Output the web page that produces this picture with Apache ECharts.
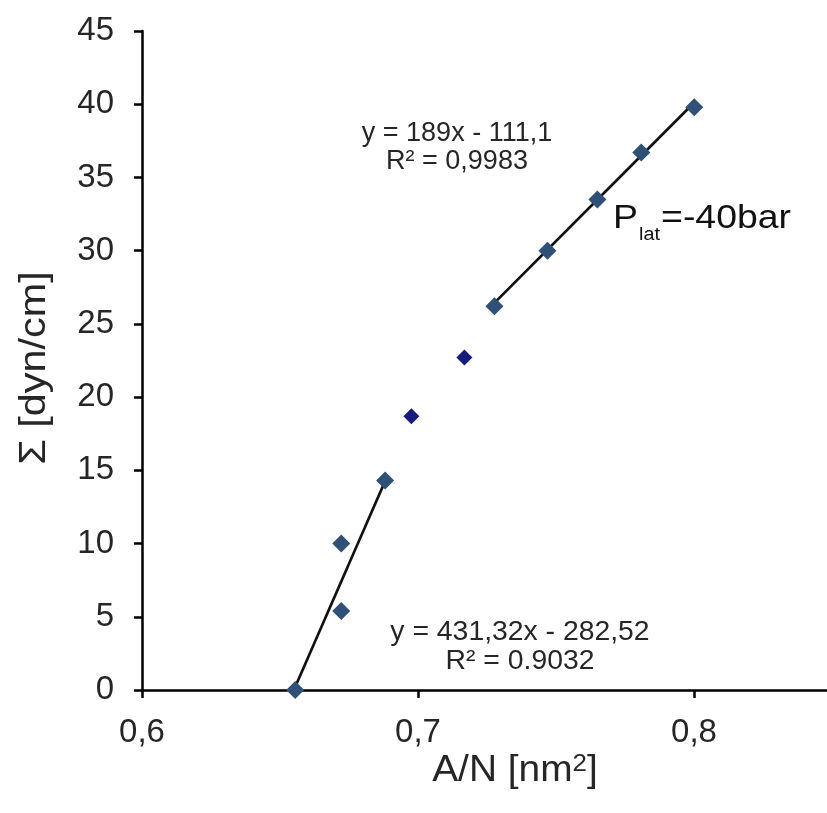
<!DOCTYPE html>
<html>
<head>
<meta charset="utf-8">
<script src="https://cdn.jsdelivr.net/npm/echarts@6/dist/echarts.min.js"></script>
<style>html,body{margin:0;padding:0;background:#fff}#c{width:827px;height:813px}</style>
</head>
<body>
<div id="c"></div>
<script>
// Data
const fitLowX = [0.6555, 0.6722, 0.6722, 0.6881];
const fitLowY = [0, 5.4, 10.0, 14.3];
const midX = [0.6976, 0.7168];
const midY = [18.7, 22.7];
const fitHighX = [0.7277, 0.7469, 0.7650, 0.7809, 0.8001];
const fitHighY = [26.2, 30.0, 33.5, 36.7, 39.8];
// Trend lines: [slope, intercept]
const trendLow = [431.32, -282.52];
const trendHigh = [189, -111.1];
const xTicks = [0.6, 0.7, 0.8];
const yTicks = [0, 5, 10, 15, 20, 25, 30, 35, 40, 45];

const zip = (xs, ys) => xs.map((x, i) => [x, ys[i]]);
const trend = (xs, c) => {
  const a = Math.min(...xs), b = Math.max(...xs);
  return [[a, c[0] * a + c[1]], [b, c[0] * b + c[1]]];
};

const font = 'Liberation Sans, Arial, sans-serif';
const ctx = document.createElement('canvas').getContext('2d');
const measure = (t, size) => { ctx.font = size + 'px ' + font; return ctx.measureText(t).width; };

const chart = echarts.init(document.getElementById('c'), null, {renderer: 'canvas'});
const markerColor = '#2F5077';
const txt = '#262626';

// P_lat label pieces
const pSize = 34, sSize = 18;
const wP = measure('P', pSize), wS = measure('lat', sSize);

chart.setOption({
  animation: false,
  backgroundColor: '#fff',
  grid: {left: 142, top: 31, bottom: 123, right: 0, containLabel: false},
  xAxis: {
    type: 'value', min: 0.6, max: 0.8482,
    axisLine: {show: true, onZero: false, lineStyle: {color: '#000', width: 2.5}},
    axisTick: {show: true, length: 8, inside: false, customValues: xTicks, lineStyle: {color: '#000', width: 2.5}},
    axisLabel: {color: txt, fontSize: 33, fontFamily: font, margin: 26, customValues: xTicks,
      formatter: v => v.toFixed(1).replace('.', ',')},
    splitLine: {show: false}
  },
  yAxis: {
    type: 'value', min: 0, max: 45, interval: 5,
    axisLine: {show: true, lineStyle: {color: '#000', width: 2.5}},
    axisTick: {show: true, length: 8, customValues: yTicks, lineStyle: {color: '#000', width: 2.5}},
    axisLabel: {color: txt, fontSize: 33, fontFamily: font, margin: 28, customValues: yTicks},
    splitLine: {show: false}
  },
  series: [
    {type: 'line', data: trend(fitLowX, trendLow), showSymbol: false, symbol: 'none',
      lineStyle: {color: '#111', width: 2.7}, z: 2},
    {type: 'line', data: trend(fitHighX, trendHigh), showSymbol: false, symbol: 'none',
      lineStyle: {color: '#111', width: 2.7}, z: 2},
    {type: 'scatter', data: zip(fitLowX, fitLowY), symbol: 'diamond', symbolSize: [18, 18],
      itemStyle: {color: markerColor, opacity: 1}, z: 3},
    {type: 'scatter', data: zip(fitHighX, fitHighY), symbol: 'diamond', symbolSize: [18, 18],
      itemStyle: {color: markerColor, opacity: 1}, z: 3},
    {type: 'scatter', data: zip(midX, midY), symbol: 'diamond', symbolSize: [16, 16],
      itemStyle: {color: '#171C78', opacity: 1}, z: 3}
  ],
  graphic: [
    // axis titles
    {type: 'text', x: 515, y: 771, scaleX: 1.08, style: {text: 'A/N [nm{sup|2}]', align: 'center', verticalAlign: 'middle',
      fill: txt, fontSize: 36, fontFamily: font,
      rich: {sup: {fontSize: 24, fill: txt, fontFamily: font, verticalAlign: 'top', padding: [0, 0, 14, 0]}}}},
    {type: 'text', x: 35, y: 368, rotation: Math.PI / 2, scaleX: 1.12, style: {text: 'Σ [dyn/cm]', align: 'center', verticalAlign: 'middle',
      fill: txt, fontSize: 37, fontFamily: font}},
    // regression annotations
    {type: 'text', x: 457, y: 148, style: {text: 'y = 189x - 111,1\nR² = 0,9983', align: 'center', verticalAlign: 'middle',
      fill: txt, fontSize: 27, lineHeight: 28, fontFamily: font}},
    {type: 'text', x: 520, y: 647, scaleX: 1.05, style: {text: 'y = 431,32x - 282,52\nR² = 0.9032', align: 'center', verticalAlign: 'middle',
      fill: txt, fontSize: 27, lineHeight: 29, fontFamily: font}},
    // P_lat label
    {type: 'group', x: 613, y: 0, scaleX: 1.1, children: [
      {type: 'text', x: 0, y: 202, style: {text: 'P', fill: '#111', fontSize: pSize, fontFamily: font, verticalAlign: 'top', align: 'left'}},
      {type: 'text', x: wP + 1, y: 226, style: {text: 'lat', fill: '#111', fontSize: sSize, fontFamily: font, verticalAlign: 'top', align: 'left'}},
      {type: 'text', x: wP + wS + 2, y: 202, style: {text: '=-40bar', fill: '#111', fontSize: pSize, fontFamily: font, verticalAlign: 'top', align: 'left'}}
    ]}
  ]
});
</script>
</body>
</html>
